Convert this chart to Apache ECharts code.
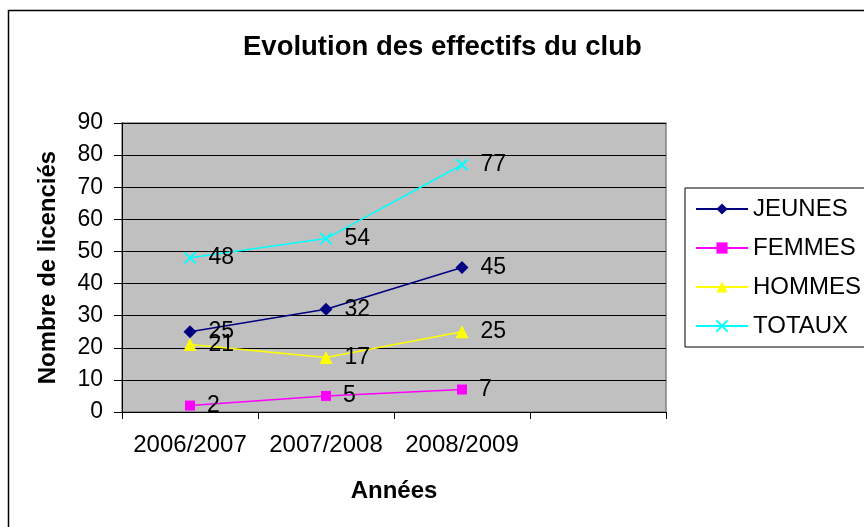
<!DOCTYPE html>
<html lang="fr">
<head>
<meta charset="UTF-8">
<title>Evolution des effectifs du club</title>
<style>
  html, body { margin: 0; padding: 0; background: #fff; }
  #box { width: 864px; height: 527px; }
</style>
</head>
<body>
<div id="box"></div>
<script src="https://cdn.jsdelivr.net/npm/echarts@6/dist/echarts.min.js"></script>
<script>
    var annees = ['2006/2007', '2007/2008', '2008/2009', ''];
    var jeunes = [25, 32, 45];
    var femmes = [2, 5, 7];
    var hommes = [21, 17, 25];
    var totaux = [48, 54, 77];

    var police = 'Liberation Sans, Arial, sans-serif';
    var croix = 'path://M0,0L10,10M10,0L0,10';

    function serie(nom, data, couleur, symbole, taille) {
        return {
            name: nom,
            type: 'line',
            data: data,
            symbol: symbole,
            symbolSize: taille,
            lineStyle: { color: couleur, width: 1.5 },
            itemStyle: { color: couleur, borderColor: couleur, borderWidth: symbole === croix ? 2 : 0 },
            label: {
                show: true,
                position: 'right',
                distance: 12,
                color: '#000',
                fontFamily: police,
                fontSize: 23
            },
            animation: false
        };
    }

    var box = echarts.init(document.getElementById('box'));
    var option = {
        backgroundColor: '#fff',
        title: {
            text: 'Evolution des effectifs du club',
            left: 243,
            top: 33,
            padding: 0,
            textStyle: { fontFamily: police, fontSize: 27.5, fontWeight: 'bold', color: '#000' }
        },
        graphic: [
            {
                type: 'rect',
                shape: { x: 8.5, y: 10.5, width: 900, height: 600 },
                style: { fill: 'none', stroke: '#000', lineWidth: 1.5 },
                silent: true
            }
        ],
        legend: {
            orient: 'vertical',
            left: 685,
            top: 188,
            padding: [9, 10, 9, 10],
            itemWidth: 52,
            itemHeight: 14,
            itemGap: 15,
            borderColor: '#000',
            borderWidth: 1,
            textStyle: { fontFamily: police, fontSize: 24, color: '#000' },
            data: ['JEUNES', 'FEMMES', 'HOMMES', 'TOTAUX']
        },
        grid: {
            left: 122,
            right: 198,
            top: 123,
            bottom: 115,
            show: true,
            backgroundColor: '#c0c0c0',
            borderColor: '#808080',
            borderWidth: 1.5
        },
        xAxis: {
            type: 'category',
            data: annees,
            boundaryGap: true,
            name: 'Années',
            nameLocation: 'middle',
            nameGap: 67,
            nameTextStyle: { fontFamily: police, fontSize: 24, fontWeight: 'bold', color: '#000' },
            axisLine: { lineStyle: { color: '#000', width: 1 } },
            axisTick: { show: true, length: 7, lineStyle: { color: '#000' } },
            axisLabel: { fontFamily: police, fontSize: 24, color: '#000', margin: 21, interval: 0 },
            splitLine: { show: false }
        },
        yAxis: {
            type: 'value',
            min: 0,
            max: 90,
            interval: 10,
            name: 'Nombre de licenciés',
            nameLocation: 'middle',
            nameGap: 62,
            nameTextStyle: { fontFamily: police, fontSize: 24, fontWeight: 'bold', color: '#000' },
            axisLine: { show: true, lineStyle: { color: '#000', width: 1 } },
            axisTick: { show: true, length: 8, lineStyle: { color: '#000' } },
            axisLabel: { fontFamily: police, fontSize: 23, color: '#000', margin: 19 },
            splitLine: { show: true, lineStyle: { color: '#000', width: 1 } }
        },
        series: [
            serie('JEUNES', jeunes, '#000080', 'diamond', 13),
            serie('FEMMES', femmes, '#ff00ff', 'rect', 10),
            serie('HOMMES', hommes, '#ffff00', 'triangle', 13),
            serie('TOTAUX', totaux, '#00ffff', croix, 11)
        ]
    };
    box.setOption(option);
</script>
</body>
</html>
